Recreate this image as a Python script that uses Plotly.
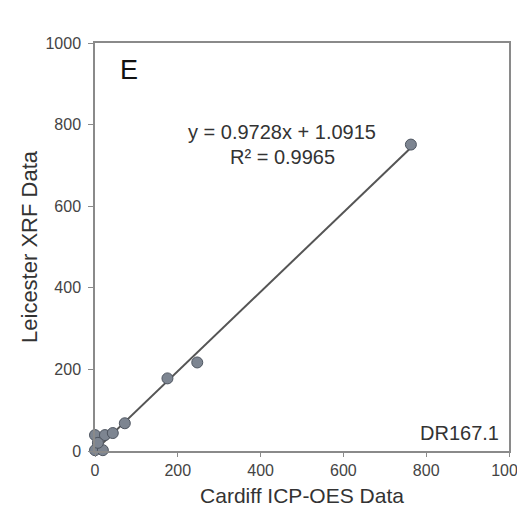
import plotly.graph_objects as go

# Data
cardiff_x = [0, 24, 0, 19, 7, 43, 72, 175, 247, 763]
leicester_y = [39, 39, 2, 2, 20, 44, 68, 178, 217, 751]
slope = 0.9728
intercept = 1.0915
r2 = 0.9965
x_ticks = [0, 200, 400, 600, 800, 1000]
y_ticks = [0, 200, 400, 600, 800, 1000]

fit_x = [0, max(cardiff_x)]
fit_y = [slope * v + intercept for v in fit_x]

fig = go.Figure()
fig.add_trace(go.Scatter(x=fit_x, y=fit_y, mode="lines",
                         line=dict(color="#555555", width=2),
                         showlegend=False))
fig.add_trace(go.Scatter(x=cardiff_x, y=leicester_y, mode="markers",
                         marker=dict(size=11, color="#7d8591",
                                     line=dict(color="#4e5560", width=1)),
                         cliponaxis=False, showlegend=False))

font_family = "Liberation Sans, Arial, sans-serif"
fig.update_layout(
    width=517, height=510,
    margin=dict(l=95, r=8, t=43, b=59),
    paper_bgcolor="white", plot_bgcolor="white",
    font=dict(family=font_family, color="#333333", size=15),
    xaxis=dict(range=[0, 1000], tickvals=x_ticks, showgrid=False, zeroline=False,
               showline=True, linecolor="#8a8a8a", linewidth=1.5, mirror=True,
               ticks="outside", ticklen=4, tickcolor="#8a8a8a",
               ticklabeloverflow="allow", automargin=False,
               tickfont=dict(size=16, color="#444444"),
               title=dict(text="Cardiff ICP-OES Data", font=dict(size=21, color="#333333"), standoff=10)),
    yaxis=dict(range=[0, 1000], tickvals=y_ticks, showgrid=False, zeroline=False,
               showline=True, linecolor="#8a8a8a", linewidth=1.5, mirror=True,
               ticks="outside", ticklen=5, tickcolor="#8a8a8a", automargin=False,
               ticklabelstandoff=4,
               tickfont=dict(size=16, color="#444444"),
               title=dict(text="Leicester XRF Data", font=dict(size=22, color="#333333"), standoff=2)),
    annotations=[
        dict(x=0.082, y=0.935, xref="paper", yref="paper", text="E", showarrow=False,
             font=dict(size=27, color="#111111"), xanchor="center", yanchor="middle"),
        dict(x=0.452, y=0.782, xref="paper", yref="paper",
             text=f"y = {slope}x + {intercept}", showarrow=False,
             font=dict(size=20, color="#333333"), xanchor="center", yanchor="middle"),
        dict(x=0.452, y=0.721, xref="paper", yref="paper",
             text=f"R² = {r2}", showarrow=False,
             font=dict(size=20, color="#333333"), xanchor="center", yanchor="middle"),
        dict(x=0.98, y=0.045, xref="paper", yref="paper", text="DR167.1", showarrow=False,
             font=dict(size=20, color="#333333"), xanchor="right", yanchor="middle"),
    ],
)

fig.write_html("out.html")
